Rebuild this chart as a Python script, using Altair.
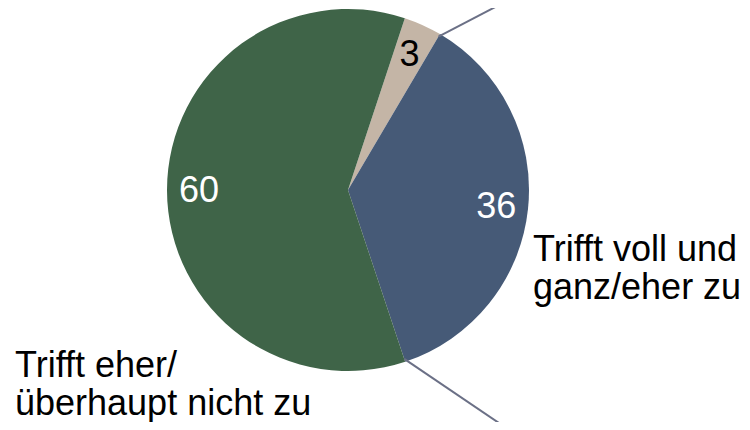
import math
import altair as alt
import pandas as pd

# ---- data ----
categories = ["Weiß nicht/keine Angabe", "Trifft voll und ganz/eher zu", "Trifft eher/überhaupt nicht zu"]
values = [3.4, 36.4, 60.2]
slice_colors = ["#C4B5A6", "#465A77", "#3F6448"]
label_colors = ["#000000", "#FFFFFF", "#FFFFFF"]
cat_texts = ["Trifft voll und\nganz/eher zu", "Trifft eher/\nüberhaupt nicht zu"]

# ---- layout / style ----
W, H = 734, 414
CX, CY = 340, 182
R = 181
START = math.radians(18.3)
FONT = "Liberation Sans"

df = pd.DataFrame({
    "cat": categories,
    "value": values,
    "ord": list(range(len(values))),
    "label": [f"{v:.0f}" for v in values],
    "tc": label_colors,
})

base = alt.Chart(df).encode(
    theta=alt.Theta("value:Q", stack=True,
                    scale=alt.Scale(range=[START, START + 2 * math.pi])),
    order=alt.Order("ord:Q"),
    color=alt.Color("cat:N", scale=alt.Scale(domain=categories, range=slice_colors), legend=None),
)

pie = base.mark_arc(radius=R).encode(x=alt.value(CX), y=alt.value(CY))

nums = base.mark_text(radius=149, fontSize=36, font=FONT, dy=1).encode(
    x=alt.value(CX), y=alt.value(CY),
    text="label:N",
    color=alt.Color("tc:N", scale=None),
)

# leader lines start at slice boundaries (derived from data)
total = sum(values)
b1 = START + 2 * math.pi * values[0] / total
b2 = b1 + 2 * math.pi * values[1] / total
offsets = [(90, -47), (130, 88)]
lead_rows = []
for a, (dx, dy) in zip([b1, b2], offsets):
    x1 = CX + (R - 3) * math.sin(a)
    y1 = CY - (R - 3) * math.cos(a)
    lead_rows.append({"x1": x1, "y1": y1, "x2": x1 + dx, "y2": y1 + dy})
lead_df = pd.DataFrame(lead_rows)

leaders = alt.Chart(lead_df).mark_rule(color="#6B7086", strokeWidth=2).encode(
    x=alt.X("x1:Q", scale=None, axis=None),
    y=alt.Y("y1:Q", scale=None, axis=None),
    x2="x2:Q",
    y2="y2:Q",
)

cat_pos = [(525, 253), (7, 369)]
cat_df = pd.DataFrame({
    "text": cat_texts,
    "px": [p[0] for p in cat_pos],
    "py": [p[1] for p in cat_pos],
})
cat_labels = alt.Chart(cat_df).mark_text(
    align="left", baseline="alphabetic", fontSize=36, lineHeight=38,
    font=FONT, color="#000000", lineBreak="\n",
).encode(
    x=alt.X("px:Q", scale=None, axis=None),
    y=alt.Y("py:Q", scale=None, axis=None),
    text="text:N",
)

chart = alt.layer(pie, nums, leaders, cat_labels).properties(
    width=W, height=H,
    autosize=alt.AutoSizeParams(type="none"),
    padding=0,
).configure_view(stroke=None)

chart.save("out.html", embed_options={"renderer": "svg", "actions": False})
